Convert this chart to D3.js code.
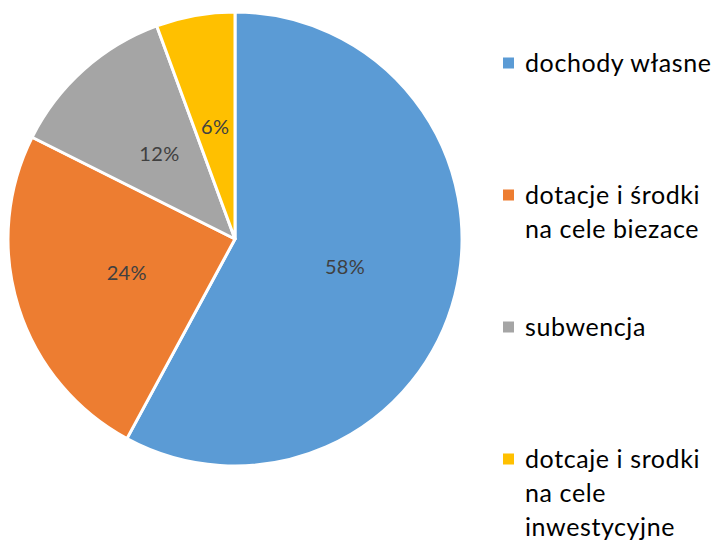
<!DOCTYPE html>
<html>
<head>
<meta charset="utf-8">
<script src="https://cdn.jsdelivr.net/npm/d3@7"></script>
<style>
  body { margin: 0; background: #fff; }
  svg { display: block; }
</style>
</head>
<body>
<div id="chart"></div>
<script>
const width = 719, height = 543;

// data
const categories = ["dochody własne", "dotacje i środki na cele biezace", "subwencja", "dotcaje i srodki na cele inwestycyjne"];
const values = [57.9, 24.5, 12.0, 5.6];
const labels = ["58%", "24%", "12%", "6%"];
const legendLines = [
  ["dochody własne"],
  ["dotacje i środki", "na cele biezace"],
  ["subwencja"],
  ["dotcaje i srodki", "na cele", "inwestycyjne"]
];
const colors = ["#5B9BD5", "#ED7D31", "#A5A5A5", "#FFC000"];

const svg = d3.select("#chart").append("svg")
  .attr("width", width)
  .attr("height", height);

const cx = 235, cy = 239, radius = 227;

const pie = d3.pie().sort(null).value(d => d.value);
const arc = d3.arc().innerRadius(0).outerRadius(radius);

const slices = pie(values.map((v, i) => ({ value: v, i })));

const g = svg.append("g").attr("transform", `translate(${cx},${cy})`);

g.selectAll("path")
  .data(slices)
  .enter()
  .append("path")
  .attr("d", arc)
  .attr("fill", d => colors[d.data.i])
  .attr("stroke", "#fff")
  .attr("stroke-width", 3)
  .attr("stroke-linejoin", "round");

g.selectAll("text.pct")
  .data(slices)
  .enter()
  .append("text")
  .attr("class", "pct")
  .attr("transform", d => `translate(${arc.centroid(d)})`)
  .attr("text-anchor", "middle")
  .attr("dy", "0.35em")
  .attr("fill", "#404040")
  .attr("font-family", "Lato, 'Open Sans', sans-serif")
  .attr("font-size", "20px")
  .attr("letter-spacing", "0.3px")
  .text(d => labels[d.data.i]);

// legend
const legendY = d3.scalePoint().domain(d3.range(categories.length)).range([63, 459]);
const lineHeight = 34;

const leg = svg.append("g").selectAll("g")
  .data(categories)
  .enter()
  .append("g")
  .attr("transform", (d, i) => `translate(503,${legendY(i)})`);

leg.append("rect")
  .attr("x", 0).attr("y", -5.5)
  .attr("width", 11).attr("height", 11)
  .attr("fill", (d, i) => colors[i]);

leg.append("text")
  .attr("x", 22)
  .attr("y", 9)
  .attr("fill", "#000")
  .attr("font-family", "Lato, 'Open Sans', sans-serif")
  .attr("font-size", "25px")
  .attr("letter-spacing", "0.6px")
  .each(function (d, i) {
    d3.select(this).selectAll("tspan")
      .data(legendLines[i])
      .enter()
      .append("tspan")
      .attr("x", 22)
      .attr("dy", (t, j) => j === 0 ? 0 : lineHeight)
      .text(t => t);
  });
</script>
</body>
</html>
